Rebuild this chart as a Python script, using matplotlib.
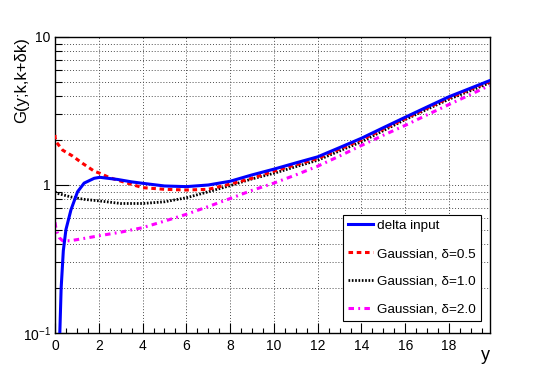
import matplotlib
matplotlib.use("Agg")
import matplotlib.pyplot as plt
from matplotlib.ticker import FixedLocator, NullFormatter, FixedFormatter

plt.rcParams['font.family'] = ['Liberation Sans', 'DejaVu Sans']
plt.rcParams['mathtext.fontset'] = 'custom'
plt.rcParams['mathtext.rm'] = 'Liberation Sans'
plt.rcParams['mathtext.it'] = 'Liberation Sans'

# ---- data ----
x_delta = [0.22, 0.28, 0.38, 0.5, 0.73, 1.03, 1.33, 1.79, 2.05, 2.86, 3.5, 4.0, 5.0, 6.0, 7.0, 8.0,
           9.0, 10.0, 11.0, 12.0, 13.0, 14.0, 15.0, 16.0, 17.0, 18.0, 19.0, 19.85]
y_delta = [0.10, 0.20, 0.36, 0.50, 0.68, 0.90, 1.03, 1.11, 1.127, 1.09, 1.05, 1.027, 0.985, 0.975, 1.0, 1.06,
           1.17, 1.28, 1.41, 1.55, 1.79, 2.07, 2.44, 2.87, 3.37, 3.95, 4.52, 5.07]

x_g05 = [0.0, 0.0, 0.05, 0.35, 0.8, 1.26, 1.79, 2.05, 2.5, 3.3, 4.0, 5.0, 6.0, 7.0, 8.0, 9.0, 10.0,
         11.0, 12.0, 13.0, 14.0, 15.0, 16.0, 17.0, 18.0, 19.0, 19.85]
y_g05 = [2.18, 2.10, 1.96, 1.72, 1.57, 1.40, 1.24, 1.20, 1.12, 1.03, 0.96, 0.935, 0.925, 0.935, 1.015, 1.11, 1.24,
         1.37, 1.51, 1.75, 2.02, 2.39, 2.81, 3.31, 3.88, 4.45, 5.0]

x_g10 = [0.0, 0.08, 0.73, 1.33, 2.05, 3.0, 4.0, 5.0, 6.0, 7.0, 8.0, 9.0, 10.0,
         11.0, 12.0, 13.0, 14.0, 15.0, 16.0, 17.0, 18.0, 19.0, 19.85]
y_g10 = [0.90, 0.88, 0.83, 0.80, 0.78, 0.75, 0.75, 0.77, 0.82, 0.90, 0.99, 1.10, 1.20,
         1.33, 1.47, 1.70, 1.96, 2.33, 2.77, 3.25, 3.80, 4.35, 4.90]

x_g20 = [0.0, 0.05, 0.2, 0.35, 0.7, 1.5, 2.05, 3.0, 4.0, 5.0, 6.0, 7.0, 8.0, 9.0, 10.0,
         11.0, 12.0, 13.0, 14.0, 15.0, 16.0, 17.0, 18.0, 19.0, 19.85]
y_g20 = [0.56, 0.50, 0.44, 0.42, 0.42, 0.44, 0.455, 0.48, 0.515, 0.57, 0.634, 0.715, 0.81, 0.92, 1.03,
         1.17, 1.34, 1.57, 1.85, 2.17, 2.53, 2.98, 3.50, 4.10, 4.70]

labels = ["delta input", "Gaussian, \u03b4=0.5", "Gaussian, \u03b4=1.0", "Gaussian, \u03b4=2.0"]
colors = ["#0000ff", "#ff0000", "#000000", "#ff00ff"]

x_ticks = [0, 2, 4, 6, 8, 10, 12, 14, 16, 18]
x_tick_labels = ["0", "2", "4", "6", "8", "10", "12", "14", "16", "18"]
y_ticks = [0.1, 1, 10]
y_tick_labels = ["$10^{-1}$", "1", "10"]

fig = plt.figure(figsize=(5.45, 3.71), dpi=100)
ax = fig.add_axes([55/545, 1-333/371, (490-55)/545, (333-37)/371])

ax.plot(x_delta, y_delta, color=colors[0], lw=2.2, label=labels[0], zorder=5)
ax.plot(x_g05, y_g05, color=colors[1], lw=2.2, ls=(0, (1.5, 1.2)), label=labels[1], zorder=4)
ax.plot(x_g10, y_g10, color=colors[2], lw=2.0, ls=(0, (0.6, 0.6)), label=labels[2], zorder=3)
ax.plot(x_g20, y_g20, color=colors[3], lw=2.2, ls=(0, (1.8, 1.4, 0.6, 1.4)), label=labels[3], zorder=2)

ax.set_yscale('log')
ax.set_xlim(0, 19.87)
ax.set_ylim(0.1, 10)

ax.xaxis.set_major_locator(FixedLocator(x_ticks))
ax.xaxis.set_major_formatter(FixedFormatter(x_tick_labels))
ax.xaxis.set_minor_locator(FixedLocator([i * 0.5 for i in range(40)]))
ax.yaxis.set_major_locator(FixedLocator(y_ticks))
ax.yaxis.set_major_formatter(FixedFormatter(y_tick_labels))
minors = [m * 0.1 for m in range(2, 10)] + [float(m) for m in range(2, 10)]
ax.yaxis.set_minor_locator(FixedLocator(minors))
ax.yaxis.set_minor_formatter(NullFormatter())

ax.tick_params(axis='both', which='both', direction='in', top=False, right=False,
               labelsize=10, width=0.8, colors='black')
ax.tick_params(axis='x', which='major', length=7, pad=4)
ax.tick_params(axis='x', which='minor', length=3.5)
ax.tick_params(axis='y', which='major', length=10, pad=3)
ax.tick_params(axis='y', which='minor', length=5)

gridkw = dict(color='0.3', linestyle=(0, (1, 2)), linewidth=0.7)
ax.grid(True, which='major', axis='both', **gridkw)
ax.grid(True, which='minor', axis='y', **gridkw)
ax.set_axisbelow(True)

for s in ax.spines.values():
    s.set_linewidth(1.0)
    s.set_color('black')

fig.text(490/545, 1-355/371, "y", ha='right', va='center', fontsize=13)
fig.text(22/545, 1-37/371, "G(y;k,k+\u03b4k)", rotation=90, ha='center', va='top', fontsize=12)

leg = ax.legend(loc='upper left', bbox_to_anchor=((343-55)/435, (333-215)/296),
                frameon=True, fancybox=False, edgecolor='black', framealpha=1,
                fontsize=9.7, handlelength=1.9, handletextpad=0.3, labelspacing=1.15,
                borderpad=0.35, borderaxespad=0)
leg.get_frame().set_linewidth(0.8)

fig.savefig("out.png", dpi=100)
